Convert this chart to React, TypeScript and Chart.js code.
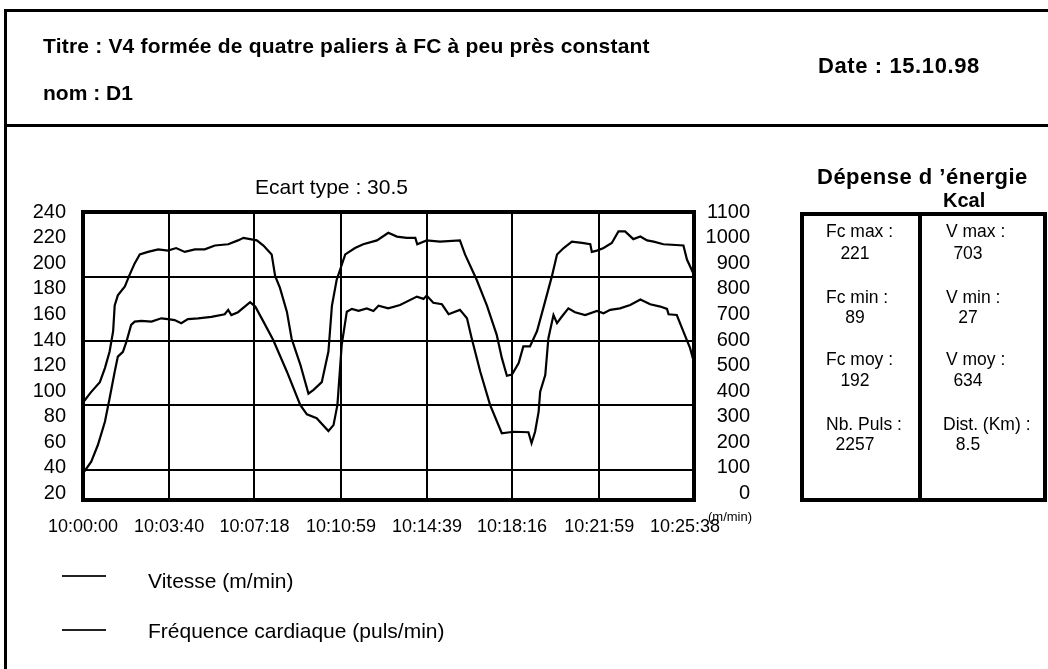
import React, { useEffect, useRef } from "react";
import { Chart, registerables } from "chart.js";

Chart.register(...registerables);

const FONT = '"Liberation Sans", Arial, Helvetica, sans-serif';

// ---- data ----
const timeTicks = [0, 220, 438, 659, 879, 1096, 1319, 1538];
const timeLabels = ["10:00:00", "10:03:40", "10:07:18", "10:10:59", "10:14:39", "10:18:16", "10:21:59", "10:25:38"];
const leftTicks = [20, 40, 60, 80, 100, 120, 140, 160, 180, 200, 220, 240];
const rightTicks = [0, 100, 200, 300, 400, 500, 600, 700, 800, 900, 1000, 1100];
const gridLevels = [38.6, 88.9, 139.2, 189.5];

// Fréquence cardiaque (puls/min), left axis
const hrTimes = [0, 20, 43, 56, 68, 77, 81, 89, 107, 119, 132, 145, 166, 192, 217, 238, 260, 286, 311, 337, 371, 396, 410, 444, 461, 482, 491, 503, 521, 533, 555, 576, 589, 610, 627, 636, 648, 670, 695, 716, 751, 780, 802, 827, 849, 854, 878, 912, 963, 976, 1006, 1032, 1057, 1070, 1083, 1096, 1113, 1125, 1142, 1160, 1176, 1198, 1211, 1228, 1249, 1275, 1296, 1300, 1313, 1330, 1351, 1368, 1385, 1406, 1424, 1441, 1458, 1483, 1534, 1543, 1555, 1561];
const hrValues = [91, 99, 107, 118, 131, 147, 167, 175, 182, 191, 200, 207, 209, 211, 210, 212, 209, 211, 211, 214, 215, 218, 220, 218, 214, 207, 190, 181, 162, 141, 121, 98, 101, 107, 131, 167, 187, 207, 212, 215, 218, 224, 221, 220, 220, 215, 218, 217, 218, 207, 187, 167, 144, 126, 112, 113, 122, 135, 135, 147, 165, 190, 207, 212, 217, 216, 215, 209, 210, 212, 216, 225, 225, 219, 221, 218, 217, 215, 214, 203, 195, 191];

// Vitesse (m/min), right axis
const speedTimes = [0, 21, 38, 56, 68, 81, 89, 102, 111, 123, 132, 149, 175, 200, 217, 234, 251, 268, 294, 328, 362, 371, 379, 396, 427, 440, 461, 486, 521, 555, 572, 597, 627, 640, 650, 661, 674, 687, 704, 725, 742, 755, 780, 810, 853, 870, 878, 895, 917, 934, 963, 981, 993, 1015, 1040, 1070, 1100, 1138, 1146, 1155, 1164, 1168, 1181, 1189, 1202, 1211, 1223, 1240, 1257, 1283, 1313, 1330, 1347, 1372, 1398, 1424, 1449, 1475, 1492, 1496, 1517, 1534, 1551, 1558, 1561];
const speedValues = [78, 124, 189, 280, 372, 476, 535, 554, 594, 659, 672, 675, 672, 685, 682, 678, 666, 682, 685, 691, 701, 718, 698, 709, 748, 731, 672, 600, 476, 346, 309, 294, 244, 267, 346, 581, 711, 722, 714, 724, 714, 734, 724, 737, 770, 761, 774, 746, 740, 701, 718, 685, 607, 476, 346, 235, 241, 239, 196, 241, 319, 398, 463, 607, 698, 666, 691, 724, 709, 698, 714, 705, 718, 724, 737, 759, 740, 731, 722, 701, 698, 633, 568, 529, 515];

const statsLeft = [
  ["Fc max :", "221"],
  ["Fc min :", "89"],
  ["Fc moy :", "192"],
  ["Nb. Puls :", "2257"],
];
const statsRight = [
  ["V max :", "703"],
  ["V min :", "27"],
  ["V moy :", "634"],
  ["Dist. (Km) :", "8.5"],
];

function Txt(props: { x: number; cy: number; size: number; bold?: boolean; children: React.ReactNode; w?: number; center?: boolean; ls?: number }) {
  const { x, cy, size, bold, children, w, center, ls } = props;
  return (
    <div
      style={{
        position: "absolute",
        left: x,
        top: cy - 0.49 * size,
        fontSize: size,
        lineHeight: `${size}px`,
        fontWeight: bold ? 700 : 400,
        whiteSpace: "nowrap",
        width: w,
        textAlign: center ? "center" : "left",
        letterSpacing: ls ? `${ls}px` : undefined,
        color: "#000",
      }}
    >
      {children}
    </div>
  );
}

function Bar(props: { x: number; y: number; w: number; h: number; c?: string }) {
  return <div style={{ position: "absolute", left: props.x, top: props.y, width: props.w, height: props.h, background: props.c || "#000" }} />;
}

export default function App() {
  const ref = useRef<HTMLCanvasElement>(null);

  useEffect(() => {
    if (!ref.current) return;
    const framePlugin = {
      id: "frame",
      afterDatasetsDraw(chart: any) {
        const { ctx, chartArea } = chart;
        const { left, top, right, bottom } = chartArea;
        ctx.save();
        ctx.lineWidth = 4;
        ctx.strokeStyle = "#000";
        ctx.strokeRect(left, top, right - left, bottom - top);
        ctx.restore();
      },
    };
    const chart = new Chart(ref.current, {
      type: "line",
      data: {
        datasets: [
          {
            label: "Fréquence cardiaque (puls/min)",
            data: hrTimes.map((t, i) => ({ x: t, y: hrValues[i] })),
            borderColor: "#000",
            borderWidth: 2.2,
            pointRadius: 0,
            tension: 0,
            yAxisID: "y",
          },
          {
            label: "Vitesse (m/min)",
            data: speedTimes.map((t, i) => ({ x: t, y: speedValues[i] })),
            borderColor: "#000",
            borderWidth: 2.2,
            pointRadius: 0,
            tension: 0,
            yAxisID: "y1",
          },
        ],
      },
      options: {
        animation: false,
        responsive: false,
        devicePixelRatio: 1,
        layout: { padding: { top: 212, left: 0, right: 298, bottom: 0 } },
        plugins: { legend: { display: false }, tooltip: { enabled: false } },
        scales: {
          x: {
            type: "linear",
            min: 0,
            max: 1561,
            afterBuildTicks: (s: any) => {
              s.ticks = timeTicks.map((v) => ({ value: v }));
            },
            afterFit: (s: any) => {
              s.height = 169;
            },
            ticks: {
              callback: (_v: any, i: number) => timeLabels[i],
              maxRotation: 0,
              autoSkip: false,
              font: { family: FONT, size: 18 },
              color: "#000",
              padding: 16,
            },
            grid: {
              color: (c: any) => (c.index === 0 || c.index === timeTicks.length - 1 ? "rgba(0,0,0,0)" : "#000"),
              lineWidth: 2,
              drawTicks: false,
            },
            border: { display: false },
          },
          yg: {
            type: "linear",
            position: "left",
            min: 14.75,
            max: 240.23,
            afterBuildTicks: (s: any) => {
              s.ticks = gridLevels.map((v) => ({ value: v }));
            },
            afterFit: (s: any) => {
              s.width = 0;
            },
            ticks: { display: false },
            grid: { color: "#000", lineWidth: 2, drawTicks: false },
            border: { display: false },
          },
          y: {
            type: "linear",
            position: "left",
            min: 14.75,
            max: 240.23,
            afterBuildTicks: (s: any) => {
              s.ticks = leftTicks.map((v) => ({ value: v }));
            },
            afterFit: (s: any) => {
              s.width = 83;
            },
            ticks: {
              callback: (v: any) => String(v),
              autoSkip: false,
              font: { family: FONT, size: 20 },
              color: "#000",
              padding: 17,
            },
            grid: { display: false, drawTicks: false },
            border: { display: false },
          },
          y1: {
            type: "linear",
            position: "right",
            min: -26.2,
            max: 1101.2,
            afterBuildTicks: (s: any) => {
              s.ticks = rightTicks.map((v) => ({ value: v }));
            },
            afterFit: (s: any) => {
              s.width = 56;
            },
            ticks: {
              callback: (v: any) => String(v),
              autoSkip: false,
              font: { family: FONT, size: 20 },
              color: "#000",
              padding: 11,
              crossAlign: "far",
            },
            grid: { display: false, drawTicks: false },
            border: { display: false },
          },
        },
      } as any,
      plugins: [framePlugin],
    });
    return () => chart.destroy();
  }, []);

  const rowCy = [[232, 254], [297.5, 318], [360, 381], [425, 445]];

  return (
    <div
      style={{
        position: "absolute",
        left: 0,
        top: 0,
        width: 1048,
        height: 669,
        overflow: "hidden",
        background: "#fff",
        fontFamily: FONT,
      }}
    >
      <canvas ref={ref} width={1048} height={669} style={{ position: "absolute", left: 0, top: 0, width: 1048, height: 669 }} />

      {/* outer frame */}
      <Bar x={4} y={9} w={1044} h={3} />
      <Bar x={4} y={9} w={3} h={660} />
      <Bar x={4} y={124} w={1044} h={3} />

      {/* header */}
      <Txt x={43} cy={45} size={21} bold ls={0.2}>Titre : V4 formée de quatre paliers à FC à peu près constant</Txt>
      <Txt x={818} cy={66} size={22} bold ls={0.6}>Date : 15.10.98</Txt>
      <Txt x={43} cy={92} size={21} bold>nom : D1</Txt>

      <Txt x={817} cy={177} size={22} bold ls={0.5}>Dépense d ’énergie</Txt>
      <Txt x={255} cy={186} size={21}>Ecart type : 30.5</Txt>
      <Txt x={943} cy={200} size={20} bold>Kcal</Txt>

      {/* stats table */}
      <div style={{ position: "absolute", left: 800, top: 212, width: 247, height: 290, border: "4px solid #000", boxSizing: "border-box" }} />
      <Bar x={918} y={212} w={4} h={290} />
      {statsLeft.map((r, i) => (
        <React.Fragment key={"l" + i}>
          <Txt x={826} cy={rowCy[i][0]} size={17.5}>{r[0]}</Txt>
          <Txt x={825} w={60} center cy={rowCy[i][1]} size={17.5}>{r[1]}</Txt>
        </React.Fragment>
      ))}
      {statsRight.map((r, i) => (
        <React.Fragment key={"r" + i}>
          <Txt x={i === 3 ? 943 : 946} cy={rowCy[i][0]} size={17.5}>{r[0]}</Txt>
          <Txt x={938} w={60} center cy={rowCy[i][1]} size={17.5}>{r[1]}</Txt>
        </React.Fragment>
      ))}

      {/* axis unit */}
      <Txt x={708} cy={516} size={13}>(m/min)</Txt>

      {/* legend */}
      <Bar x={62} y={575} w={44} h={2} c="#222" />
      <Txt x={148} cy={580} size={21}>Vitesse (m/min)</Txt>
      <Bar x={62} y={629} w={44} h={2} c="#222" />
      <Txt x={148} cy={630.5} size={21}>Fréquence cardiaque (puls/min)</Txt>
    </div>
  );
}
